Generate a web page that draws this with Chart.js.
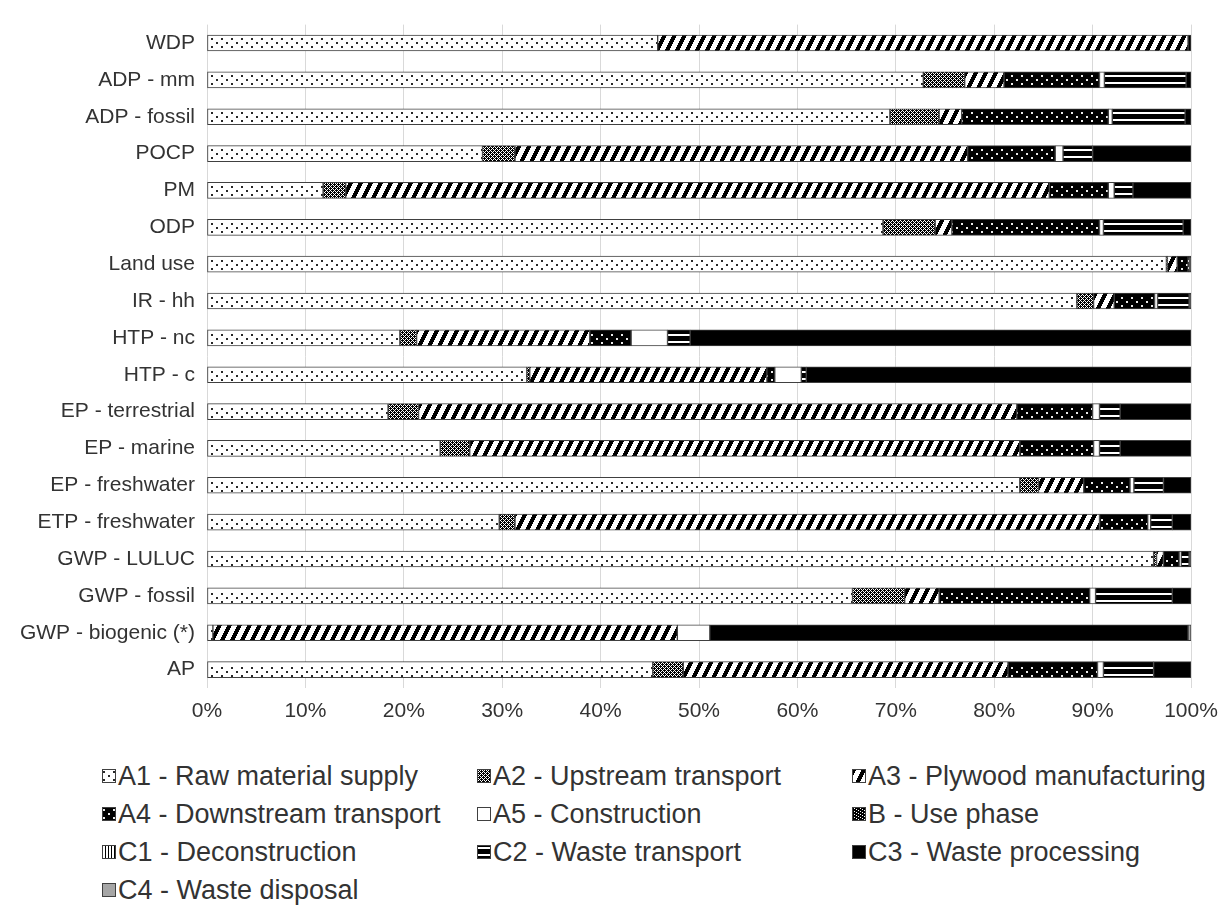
<!DOCTYPE html>
<html>
<head>
<meta charset="utf-8">
<script src="https://cdn.jsdelivr.net/npm/chart.js@4.4.1/dist/chart.umd.min.js"></script>
<style>
  html, body { margin: 0; padding: 0; background: #ffffff; }
  #wrap { position: relative; width: 1231px; height: 907px; overflow: hidden; }
  #chart { position: absolute; left: 0; top: 0; }
  #legend { position: absolute; left: 0; top: 0; font-family: "Liberation Sans", Arial, sans-serif; font-size: 27px; color: #333333; }
  .item { position: absolute; white-space: nowrap; display: flex; align-items: center; height: 32px; line-height: 32px; }
  .item canvas { margin-right: 2px; }
</style>
</head>
<body>
<div id="wrap">
  <canvas id="chart" width="1231" height="745"></canvas>
  <div id="legend"></div>
</div>
<script>
// Impact categories, listed top to bottom
const categories = [
  'WDP', 'ADP - mm', 'ADP - fossil', 'POCP', 'PM', 'ODP', 'Land use', 'IR - hh',
  'HTP - nc', 'HTP - c', 'EP - terrestrial', 'EP - marine', 'EP - freshwater',
  'ETP - freshwater', 'GWP - LULUC', 'GWP - fossil', 'GWP - biogenic (*)', 'AP'
];

// Share of each life-cycle stage (%)
const a1 = [45.8, 72.8, 69.4, 28.0, 11.8, 68.7, 97.5, 88.4, 19.6, 32.5, 18.4, 23.7, 82.6, 29.7, 96.2, 65.6, 0.6, 45.3];
const a2 = [0, 4.2, 5.0, 3.3, 2.3, 5.3, 0.1, 1.7, 1.7, 0.3, 3.1, 3.0, 1.9, 1.6, 0.3, 5.3, 0, 3.1];
const a3 = [53.9, 4.0, 2.3, 46.0, 71.5, 1.7, 1.0, 2.1, 17.6, 24.1, 60.8, 55.9, 4.6, 59.4, 0.7, 3.5, 47.2, 33.0];
const a4 = [0.3, 9.7, 14.9, 8.9, 6.0, 15.0, 1.1, 4.1, 4.2, 0.8, 7.7, 7.5, 4.7, 4.9, 1.6, 15.3, 0, 9.1];
const a5 = [0, 0.5, 0.4, 0.8, 0.6, 0.4, 0, 0.3, 3.7, 2.7, 0.7, 0.6, 0.4, 0.3, 0.2, 0.6, 3.3, 0.6];
const bUse = [0, 0, 0, 0, 0, 0, 0, 0, 0, 0, 0, 0, 0, 0, 0, 0, 0, 0];
const c1 = [0, 0, 0, 0, 0, 0, 0, 0, 0, 0, 0, 0, 0, 0, 0, 0, 0, 0];
const c2 = [0, 8.3, 7.4, 3.0, 1.9, 8.1, 0.1, 3.2, 2.3, 0.5, 2.1, 2.1, 3.0, 2.2, 0.8, 7.8, 0, 5.1];
const c3 = [0, 0.5, 0.6, 10.0, 5.9, 0.8, 0.2, 0.2, 50.9, 39.1, 7.2, 7.2, 2.8, 1.9, 0.2, 1.9, 48.6, 3.8];
const c4 = [0, 0, 0, 0, 0, 0, 0, 0, 0, 0, 0, 0, 0, 0, 0, 0, 0.3, 0];

const stageNames = [
  'A1 - Raw material supply', 'A2 - Upstream transport', 'A3 - Plywood manufacturing',
  'A4 - Downstream transport', 'A5 - Construction', 'B - Use phase',
  'C1 - Deconstruction', 'C2 - Waste transport', 'C3 - Waste processing',
  'C4 - Waste disposal'
];
const tickLabels = ['0%', '10%', '20%', '30%', '40%', '50%', '60%', '70%', '80%', '90%', '100%'];

// ---- hatch tiles -------------------------------------------------------
const ROW = 37;          // category pitch in pixels; row-anchored tiles use it as height
const MID = 18;          // tile row that sits at a bar's centre

function makeTile(w, h, shade) {
  const c = document.createElement('canvas');
  c.width = w; c.height = h;
  const g = c.getContext('2d');
  const img = g.createImageData(w, h);
  for (let y = 0; y < h; y++) {
    for (let x = 0; x < w; x++) {
      const v = shade(x, y);
      const i = (y * w + x) * 4;
      img.data[i] = img.data[i + 1] = img.data[i + 2] = v;
      img.data[i + 3] = 255;
    }
  }
  g.putImageData(img, 0, 0);
  return c;
}

function dotShade(bg, fg) {
  // columns alternate between a pair of dots and a single centred dot
  return (x, y) => {
    const cx = x % 10;
    if (cx === 1 || cx === 2) {
      if (y === MID - 5 || y === MID - 4 || y === MID + 3 || y === MID + 4) return fg;
    }
    if (cx === 6 || cx === 7) {
      if (y === MID - 1 || y === MID) return fg;
    }
    return bg;
  };
}

const tiles = {
  a1: makeTile(10, ROW, dotShade(255, 40)),
  a2: makeTile(4, 4, (x, y) => ((x + y) % 4 === 0 || (x - y + 40) % 4 === 0) ? 255 : 0),
  a3: makeTile(10, 20, (x, y) => (((x + 0.5) + 0.5 * (y + 0.5)) % 10) < 4.3 ? 0 : 255),
  a4: makeTile(10, ROW, dotShade(0, 235)),
  b:  makeTile(6, 6, (x, y) => ((x + y) % 3 === 0 && (x % 2 === 0)) ? 255 : 0),
  c1: makeTile(3, 3, (x, y) => x === 0 ? 0 : 255),
  c2: makeTile(4, ROW, (x, y) => (y === MID - 5 || y === MID - 4 || y === MID + 2 || y === MID + 3) ? 255 : 0)
};

const rowAnchored = ['a1', 'a4', 'c2'];
const patCtx = document.createElement('canvas').getContext('2d');
const pats = {};
Object.keys(tiles).forEach(k => { pats[k] = patCtx.createPattern(tiles[k], 'repeat'); });

const fills = [pats.a1, pats.a2, pats.a3, pats.a4, '#ffffff', pats.b, pats.c1, pats.c2, '#000000', '#a6a6a6'];
const tileKeys = ['a1', 'a2', 'a3', 'a4', null, 'b', 'c1', 'c2', null, null];
const series = [a1, a2, a3, a4, a5, bUse, c1, c2, c3, c4];

// keep row-anchored hatches centred on every bar
const alignHatch = {
  id: 'alignHatch',
  beforeDatasetsDraw(chart) {
    const y0 = Math.round(chart.scales.y.getPixelForValue(0));
    const m = new DOMMatrix([1, 0, 0, 1, 0, y0 - MID]);
    rowAnchored.forEach(k => pats[k].setTransform(m));
  }
};

const FONT = '"Liberation Sans", Arial, sans-serif';
const TEXT = '#333333';

const chart = new Chart(document.getElementById('chart'), {
  type: 'bar',
  data: {
    labels: categories,
    datasets: series.map((vals, i) => ({
      label: stageNames[i],
      data: vals,
      backgroundColor: fills[i],
      borderColor: '#404040',
      borderWidth: 1,
      borderSkipped: false,
      barThickness: 16
    }))
  },
  options: {
    indexAxis: 'y',
    responsive: false,
    animation: false,
    events: [],
    layout: { padding: { top: 22, right: 40, left: 0, bottom: 0 } },
    plugins: {
      legend: { display: false },
      tooltip: { enabled: false }
    },
    scales: {
      x: {
        stacked: true,
        min: 0,
        max: 100,
        afterFit(scale) { scale.height = 57; },
        afterBuildTicks(scale) {
          scale.ticks = tickLabels.map((t, i) => ({ value: i * 10 }));
        },
        grid: { color: '#d9d9d9', lineWidth: 1, drawTicks: false },
        border: { display: false },
        ticks: {
          padding: 11,
          color: TEXT,
          font: { family: FONT, size: 21 },
          callback: (v, i) => tickLabels[i]
        }
      },
      y: {
        stacked: true,
        afterFit(scale) { scale.width = 207; },
        grid: { display: false, drawTicks: false },
        border: { display: false },
        ticks: {
          padding: 12,
          autoSkip: false,
          color: TEXT,
          font: { family: FONT, size: 21 }
        }
      }
    }
  },
  plugins: [alignHatch]
});

// ---- legend -------------------------------------------------------------
const legendCols = [102, 477, 852];
const legendRows = [776, 814, 852, 890];
const legend = document.getElementById('legend');
stageNames.forEach((name, i) => {
  const item = document.createElement('div');
  item.className = 'item';
  item.style.left = legendCols[i % 3] + 'px';
  item.style.top = (legendRows[Math.floor(i / 3)] - 16) + 'px';
  const sw = document.createElement('canvas');
  sw.width = 14; sw.height = 14;
  const g = sw.getContext('2d');
  g.fillStyle = '#404040';
  g.fillRect(0, 0, 14, 14);
  const key = tileKeys[i];
  if (key) {
    const p = g.createPattern(tiles[key], 'repeat');
    if (rowAnchored.includes(key)) p.setTransform(new DOMMatrix([1, 0, 0, 1, 0, 7 - MID]));
    g.fillStyle = p;
  } else {
    g.fillStyle = fills[i];
  }
  g.fillRect(1, 1, 12, 12);
  const txt = document.createElement('span');
  txt.textContent = name;
  item.appendChild(sw);
  item.appendChild(txt);
  legend.appendChild(item);
});
</script>
</body>
</html>
